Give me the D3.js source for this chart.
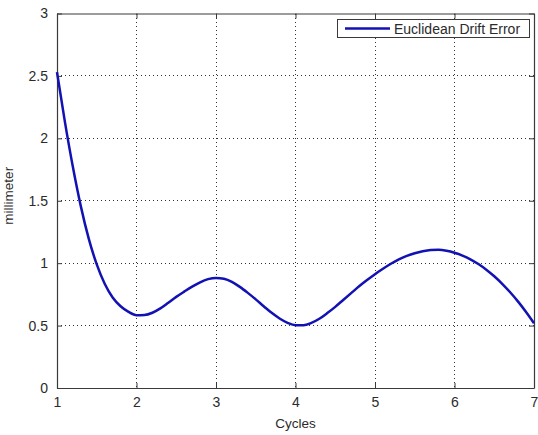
<!DOCTYPE html>
<html>
<head>
<meta charset="utf-8">
<script src="https://cdn.jsdelivr.net/npm/d3@7"></script>
<style>
  html, body { margin: 0; padding: 0; background: #fff; }
  svg { display: block; }
  text { font-family: "Liberation Sans", Arial, sans-serif; fill: #2b2b2b; }
</style>
</head>
<body>
<svg id="chart" width="538" height="435"></svg>
<script>
// ---- data ----
const cycles = [1.0, 1.1, 1.2, 1.3, 1.4, 1.5, 1.6, 1.7, 1.8, 1.9, 2.0, 2.1, 2.2, 2.3, 2.4, 2.5, 2.6, 2.7, 2.8, 2.9, 3.0, 3.1, 3.2, 3.3, 3.4, 3.5, 3.6, 3.7, 3.8, 3.9, 4.0, 4.1, 4.2, 4.3, 4.4, 4.5, 4.6, 4.7, 4.8, 4.9, 5.0, 5.1, 5.2, 5.3, 5.4, 5.5, 5.6, 5.7, 5.8, 5.9, 6.0, 6.1, 6.2, 6.3, 6.4, 6.5, 6.6, 6.7, 6.8, 6.9, 7.0];
const drift = [2.53, 2.13, 1.77, 1.455, 1.195, 0.99, 0.835, 0.725, 0.655, 0.61, 0.583, 0.585, 0.603, 0.638, 0.683, 0.73, 0.772, 0.812, 0.847, 0.872, 0.882, 0.875, 0.85, 0.81, 0.762, 0.71, 0.655, 0.602, 0.557, 0.522, 0.503, 0.503, 0.522, 0.555, 0.6, 0.65, 0.705, 0.76, 0.815, 0.865, 0.912, 0.955, 0.995, 1.03, 1.058, 1.08, 1.096, 1.106, 1.108, 1.1, 1.084, 1.061, 1.031, 0.993, 0.948, 0.895, 0.835, 0.767, 0.692, 0.609, 0.519];
const xTicks = [1, 2, 3, 4, 5, 6, 7];
const yTicks = [0, 0.5, 1, 1.5, 2, 2.5, 3];
const xLabel = "Cycles";
const yLabel = "millimeter";
const seriesName = "Euclidean Drift Error";

// ---- layout ----
const L = 57, R = 534, T = 13.5, B = 388;
const svg = d3.select("#chart");
const x = d3.scaleLinear().domain([1, 7]).range([L, R]);
const y = d3.scaleLinear().domain([0, 3]).range([B, T]);
const axisColor = "#3a3a3a";
const tickLen = 5;

// grid
const grid = svg.append("g");
grid.selectAll("line.vx").data(xTicks.slice(1, -1)).join("line")
  .attr("x1", d => x(d)).attr("x2", d => x(d)).attr("y1", T).attr("y2", B)
  .attr("stroke", "#333").attr("stroke-width", 1).attr("stroke-dasharray", "1,3")
  .attr("shape-rendering", "crispEdges");
grid.selectAll("line.hy").data(yTicks.slice(1, -1)).join("line")
  .attr("y1", d => y(d)).attr("y2", d => y(d)).attr("x1", L).attr("x2", R)
  .attr("stroke", "#333").attr("stroke-width", 1).attr("stroke-dasharray", "1,3")
  .attr("shape-rendering", "crispEdges");

// axes
const fmt = d => String(d);
const gx = svg.append("g").attr("transform", `translate(0,${B})`)
  .call(d3.axisBottom(x).tickValues(xTicks).tickFormat(fmt).tickSizeInner(-tickLen).tickSizeOuter(0).tickPadding(9));
const gxt = svg.append("g").attr("transform", `translate(0,${T})`)
  .call(d3.axisTop(x).tickValues(xTicks).tickFormat("").tickSizeInner(-tickLen).tickSizeOuter(0));
const gy = svg.append("g").attr("transform", `translate(${L},0)`)
  .call(d3.axisLeft(y).tickValues(yTicks).tickFormat(fmt).tickSizeInner(-tickLen).tickSizeOuter(0).tickPadding(9));
const gyr = svg.append("g").attr("transform", `translate(${R},0)`)
  .call(d3.axisRight(y).tickValues(yTicks).tickFormat("").tickSizeInner(-tickLen).tickSizeOuter(0));
[gx, gxt, gy, gyr].forEach(g => {
  g.select(".domain").attr("stroke", axisColor).attr("stroke-width", 1.2);
  g.selectAll(".tick line").attr("stroke", axisColor).attr("stroke-width", 1);
  g.selectAll("text").attr("font-size", 14).attr("fill", "#2b2b2b")
    .attr("font-family", '"Liberation Sans", Arial, sans-serif');
});

// axis labels
svg.append("text").attr("x", (L + R) / 2).attr("y", 428).attr("text-anchor", "middle")
  .attr("font-size", 13.5).text(xLabel);
svg.append("text").attr("transform", `translate(13,${(T + B) / 2 - 5}) rotate(-90)`)
  .attr("text-anchor", "middle").attr("font-size", 13.5).text(yLabel);

// curve
const pts = cycles.map((c, i) => [c, drift[i]]);
svg.append("path").datum(pts)
  .attr("d", d3.line().x(d => x(d[0])).y(d => y(d[1])).curve(d3.curveMonotoneX))
  .attr("fill", "none").attr("stroke", "#1212b4").attr("stroke-width", 2.5)
  .attr("stroke-linejoin", "round");

// legend
const lg = svg.append("g");
lg.append("rect").attr("x", 337).attr("y", 19).attr("width", 192).attr("height", 18)
  .attr("fill", "#fff").attr("stroke", axisColor).attr("stroke-width", 1)
  .attr("shape-rendering", "crispEdges");
lg.append("line").attr("x1", 345).attr("x2", 390).attr("y1", 28.5).attr("y2", 28.5)
  .attr("stroke", "#1212b4").attr("stroke-width", 2.5);
lg.append("text").attr("x", 394).attr("y", 33.5).attr("font-size", 14).text(seriesName);
</script>
</body>
</html>
